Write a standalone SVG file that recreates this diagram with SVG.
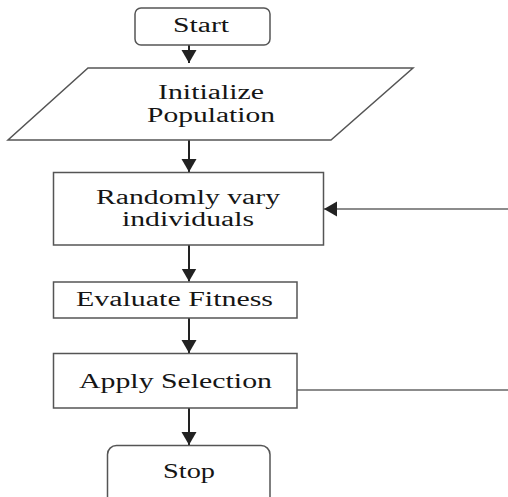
<svg xmlns="http://www.w3.org/2000/svg" width="508" height="497" viewBox="0 0 508 497">
<style>
.box{fill:#fff;stroke:#555;stroke-width:1.5}
.lbl{font-family:"Liberation Serif","Times New Roman",serif;font-size:20.5px;fill:#151515;text-anchor:middle}
.con{stroke:#222;stroke-width:2;fill:none}
.line{stroke:#666;stroke-width:1.5;fill:none}
</style>
<defs>
<marker id="ah" markerUnits="userSpaceOnUse" markerWidth="16" markerHeight="16" refX="13" refY="8" orient="auto">
<path d="M0,0.5 L13,8 L0,15.5 Z" fill="#222"/>
</marker>
</defs>
<rect width="508" height="497" fill="#fff"/>
<g id="connectors">
<line class="con" x1="189" y1="45" x2="189" y2="63" marker-end="url(#ah)"/>
<line class="con" x1="189" y1="140" x2="189" y2="172" marker-end="url(#ah)"/>
<line class="con" x1="189" y1="245" x2="189" y2="281.5" marker-end="url(#ah)"/>
<line class="con" x1="189" y1="318" x2="189" y2="353" marker-end="url(#ah)"/>
<line class="con" x1="189" y1="408" x2="189" y2="445" marker-end="url(#ah)"/>
<line class="line" x1="297" y1="390" x2="508" y2="390"/>
<line class="line" x1="508" y1="209" x2="324" y2="209" marker-end="url(#ah)"/>
</g>
<g id="start">
<rect class="box" x="135" y="8" width="135" height="37" rx="6"/>
<text class="lbl" x="201" y="32" textLength="56" lengthAdjust="spacingAndGlyphs">Start</text>
</g>
<g id="init">
<polygon class="box" points="88,68 413,68 331,140 8,140"/>
<text class="lbl" x="211" y="99" textLength="106" lengthAdjust="spacingAndGlyphs">Initialize</text>
<text class="lbl" x="211" y="122" textLength="128" lengthAdjust="spacingAndGlyphs">Population</text>
</g>
<g id="vary">
<rect class="box" x="53.5" y="172.5" width="270" height="72.5"/>
<text class="lbl" x="188" y="204" textLength="184" lengthAdjust="spacingAndGlyphs">Randomly vary</text>
<text class="lbl" x="188" y="226" textLength="132" lengthAdjust="spacingAndGlyphs">individuals</text>
</g>
<g id="evaluate">
<rect class="box" x="53.5" y="282" width="243.5" height="36"/>
<text class="lbl" x="174.5" y="306" textLength="197" lengthAdjust="spacingAndGlyphs">Evaluate Fitness</text>
</g>
<g id="select">
<rect class="box" x="53.5" y="353.5" width="243.5" height="54.5"/>
<text class="lbl" x="175.5" y="388" textLength="193" lengthAdjust="spacingAndGlyphs">Apply Selection</text>
</g>
<g id="stop">
<rect class="box" x="107.5" y="445.5" width="162.5" height="70" rx="9"/>
<text class="lbl" x="189" y="478" textLength="52" lengthAdjust="spacingAndGlyphs">Stop</text>
</g>
</svg>
